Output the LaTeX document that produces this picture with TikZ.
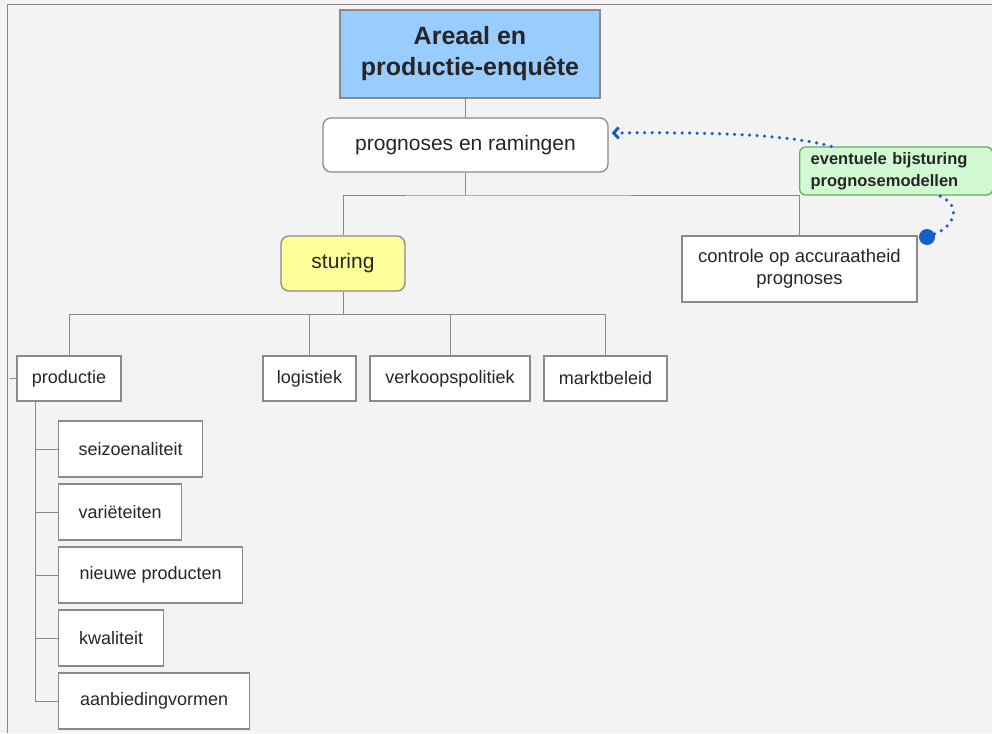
\documentclass[tikz,border=0pt]{standalone}
\usepackage{fontspec}
\setmainfont{Liberation Sans}
\usetikzlibrary{arrows.meta}
\definecolor{lijn}{HTML}{8A8A8A}
\definecolor{blauw}{HTML}{99CCFF}
\definecolor{geel}{HTML}{FFFF99}
\definecolor{groen}{HTML}{D2FAD2}
\definecolor{stipblauw}{HTML}{1560C8}
\definecolor{achter}{HTML}{F3F3F3}
\definecolor{tekst}{HTML}{262626}
\begin{document}
\begin{tikzpicture}[x=1pt,y=-1pt,
 vak/.style={draw=lijn,line width=1.3pt,fill=white,inner sep=0pt,minimum height=45pt,text=tekst,font=\fontsize{18}{22}\selectfont,align=center},
 rvak/.style={vak,rounded corners=8pt,font=\fontsize{21}{25}\selectfont},
 kind/.style={vak,anchor=west,minimum height=56pt},
 tak/.style={draw=lijn,line width=1pt},
 stippel/.style={draw=stipblauw,line width=3.5pt,line cap=round,dash pattern=on 0pt off 7.5pt}]
\useasboundingbox[fill=achter] (0,0) rectangle (992,733);
\draw[lijn,line width=1.2pt] (7.5,733) -- (7.5,4.5) -- (992,4.5);
\path (470,54) node[vak,fill=blauw,minimum width=260pt,minimum height=88pt,font=\bfseries\fontsize{25}{31}\selectfont] (A) {Areaal en\\productie-enquête}
 (465.5,145) node[rvak,minimum width=285pt,minimum height=54pt] (P) {prognoses en ramingen}
 (343,263.5) node[rvak,fill=geel,minimum width=124pt,minimum height=55pt] (S) {sturing}
 (799.5,269) node[vak,minimum width=235pt,minimum height=66pt,font=\fontsize{18.5}{22}\selectfont] (C) {controle op accuraatheid\\prognoses}
 (799,171) node[vak,anchor=west,rounded corners=6pt,fill=groen,draw=lijn!70!green,minimum height=48pt,inner xsep=11pt,text width=171pt,align=left,font=\bfseries\fontsize{16.5}{22}\selectfont] (G) {eventuele bijsturing\\prognosemodellen}
 (69,378.5) node[vak,minimum width=104pt] (R) {productie}
 (309.5,378.5) node[vak,minimum width=93pt] (L) {logistiek}
 (450,378.5) node[vak,minimum width=160pt] (V) {verkoopspolitiek}
 (605.5,378.5) node[vak,minimum width=123pt] (M) {marktbeleid};
\foreach \t/\w [count=\i] in {seizoenaliteit/144, variëteiten/123, nieuwe producten/184, kwaliteit/105, aanbiedingvormen/191}
 \node[kind,minimum width=\w pt] (K\i) at (58,386+63*\i) {\t};
\coordinate (j1) at (465.5,195);
\coordinate (j2) at (343,314);
\coordinate (j3) at ([xshift=-34pt]R.south);
\coordinate (r0) at (10,378.5);
\draw[tak] (P.north) -- (P.north |- A.south);
\draw[tak] (P.south) -- (j1);
\draw[tak] (S.north) |- (j1) -| (C.north);
\draw[tak] (S.south) -- (j2);
\foreach \d in {R,L,V,M} \draw[tak] (\d.north) |- (j2);
\foreach \i in {1,...,5} \draw[tak] (K\i.west) -| (j3);
\draw[tak] (R.west) -- (r0);
\node[circle,fill=stipblauw,inner sep=0pt,minimum size=16pt] (D) at (927,237) {};
\draw[stippel] (D) .. controls (955,226) and (962,205) .. ([xshift=43pt]G.south);
\draw[stippel,-{Straight Barb[length=5pt,width=11pt,line width=3pt]}] ([xshift=-65pt]G.north) .. controls (790,135) and (720,132) .. ([xshift=3pt,yshift=12pt]P.east);
\end{tikzpicture}
\end{document}
